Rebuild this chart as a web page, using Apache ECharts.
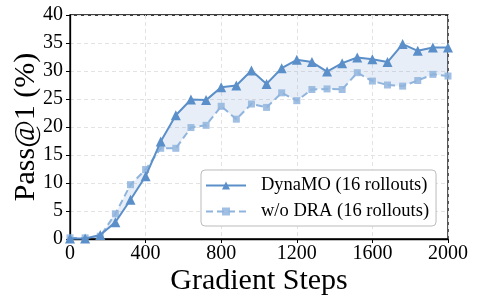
<!DOCTYPE html>
<html><head><meta charset="utf-8">
<script src="https://cdn.jsdelivr.net/npm/echarts@6/dist/echarts.min.js"></script>
<style>html,body{margin:0;padding:0;background:#fff}#c{width:478px;height:307px}</style>
</head><body><div id="c"></div>
<script>
const steps = [0,80,160,240,320,400,480,560,640,720,800,880,960,1040,1120,1200,1280,1360,1440,1520,1600,1680,1760,1840,1920,2000];
const dynamo = [0.1,0.1,0.7,3.0,7.0,11.2,17.4,22.1,24.9,24.8,27.1,27.4,30.1,27.7,30.5,32.0,31.6,29.9,31.4,32.4,32.1,31.6,34.8,33.6,34.2,34.2];
const woDRA = [0.2,0.2,0.5,4.5,9.7,12.4,16.2,16.2,19.9,20.3,23.7,21.4,24.1,23.5,26.1,24.7,26.7,26.8,26.7,29.7,28.2,27.5,27.3,28.3,29.4,29.1];
const xTicks = [0,400,800,1200,1600,2000];
const yTicks = [0,5,10,15,20,25,30,35,40];
const names = ['DynaMO (16 rollouts)','w/o DRA (16 rollouts)'];

const serif = '"Liberation Serif","DejaVu Serif",serif';
const dark = '#5b8fc9', light = '#8fb4dd';
const pair = a => steps.map((s,i)=>[s,a[i]]);

const chart = echarts.init(document.getElementById('c'), null, {renderer:'canvas'});
chart.setOption({
  animation:false,
  grid:{left:70,right:30,top:15,bottom:68,containLabel:false,outerBoundsMode:'none',
    show:true,borderColor:'#000',borderWidth:1.3,backgroundColor:'transparent'},
  legend:{
    orient:'vertical', left:201, top:170, itemWidth:40, itemHeight:10, itemGap:7,
    padding:[6,7,5,4], borderColor:'#bbb', borderWidth:1, borderRadius:4, backgroundColor:'#fff',
    textStyle:{fontFamily:serif,fontSize:18.5,color:'#000',padding:[0,0,0,10]},
    data:names
  },
  xAxis:{type:'value',min:xTicks[0],max:xTicks[xTicks.length-1],interval:400,
    name:'Gradient Steps',nameLocation:'middle',nameGap:27,nameMoveOverlap:false,
    nameTextStyle:{fontFamily:serif,fontSize:30,color:'#000'},
    axisLine:{show:true,lineStyle:{color:'#000',width:1.3}},
    axisTick:{show:true,inside:false,length:4,lineStyle:{color:'#000'}},
    axisLabel:{fontFamily:serif,fontSize:20,color:'#000',margin:5,formatter:v=>String(v)},
    splitLine:{show:true,lineStyle:{color:'#e3e3e3',type:[4,3],width:1}}
  },
  yAxis:{type:'value',min:yTicks[0],max:yTicks[yTicks.length-1],interval:5,
    name:'Pass@1 (%)',nameLocation:'middle',nameGap:29,nameRotate:90,nameMoveOverlap:false,
    nameTextStyle:{fontFamily:serif,fontSize:30,color:'#000'},
    axisLine:{show:true,lineStyle:{color:'#000',width:1.3}},
    axisTick:{show:true,inside:false,length:4,lineStyle:{color:'#000'}},
    axisLabel:{fontFamily:serif,fontSize:20,color:'#000',margin:7,formatter:v=>String(v)},
    splitLine:{show:true,lineStyle:{color:'#e3e3e3',type:[4,3],width:1}}
  },
  series:[
    {type:'custom',name:'gap',data:[[0,0]],silent:true,z:1,
     renderItem:function(params, api){
       const top = steps.map((s,i)=>api.coord([s,dynamo[i]]));
       const bot = steps.map((s,i)=>api.coord([s,woDRA[i]])).reverse();
       return {type:'polygon',shape:{points:top.concat(bot)},style:{fill:'rgba(91,143,201,0.15)'}};
     }},
    {type:'line',name:names[1],data:pair(woDRA),symbol:'rect',symbolSize:7,
     lineStyle:{color:light,width:2,type:[7,4]},itemStyle:{color:light,opacity:0.85},z:3},
    {type:'line',name:names[0],data:pair(dynamo),symbol:'triangle',symbolSize:10,
     lineStyle:{color:dark,width:2},itemStyle:{color:dark},z:4}
  ]
});
</script></body></html>
